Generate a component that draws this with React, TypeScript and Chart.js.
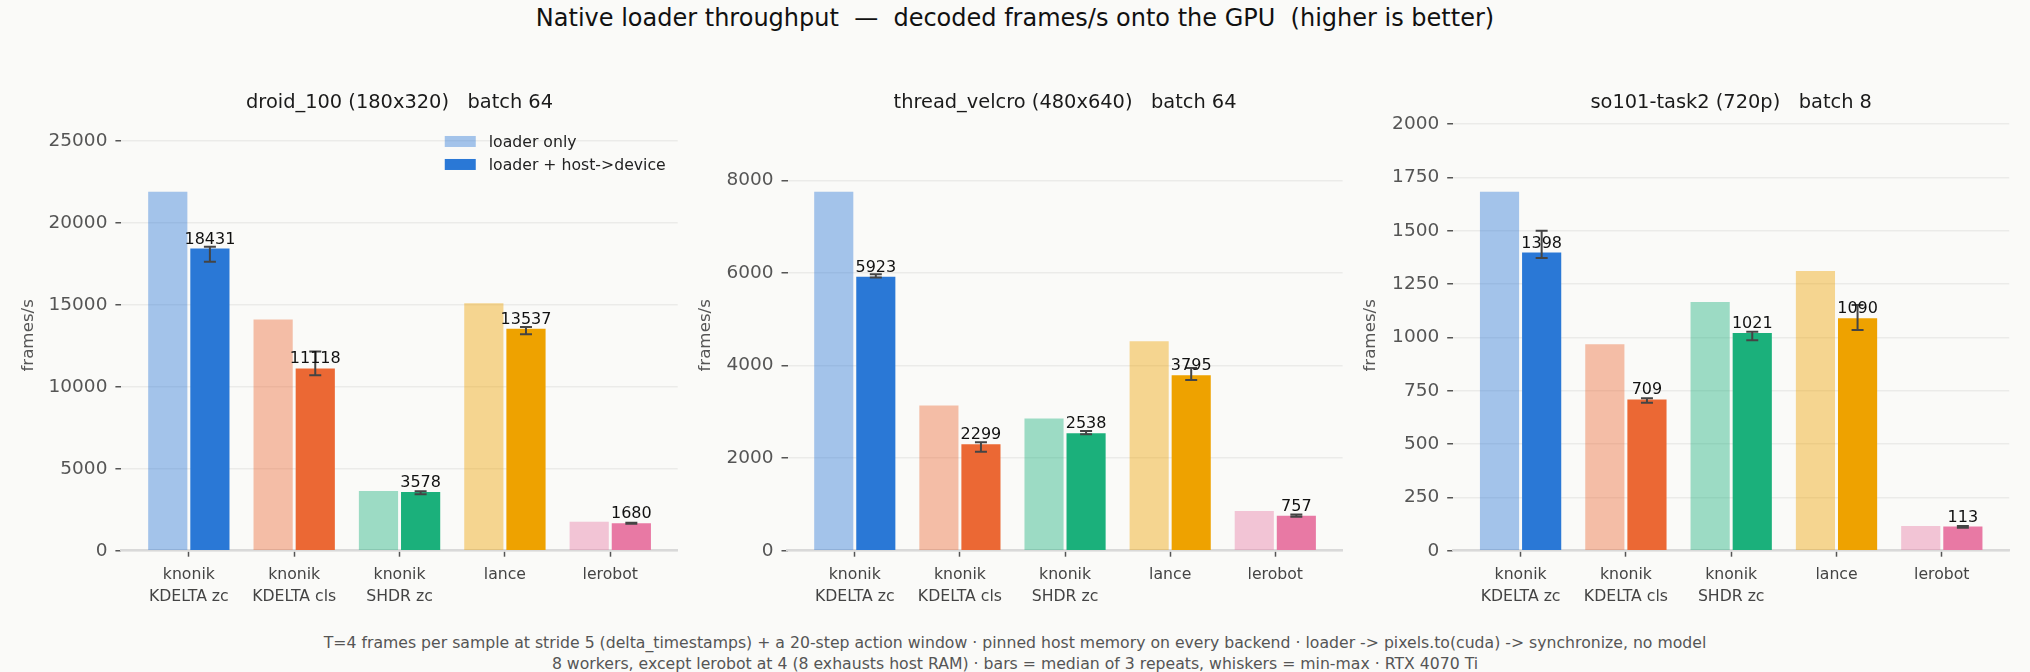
import { useEffect, useRef } from 'react'
import { Chart, registerables } from 'chart.js'

Chart.register(...registerables)

const FONT = '"DejaVu Sans", "Liberation Sans", sans-serif'
const BG = '#fafaf8'

const SUPTITLE = 'Native loader throughput  —  decoded frames/s onto the GPU  (higher is better)'
const FOOTNOTE = [
  'T=4 frames per sample at stride 5 (delta_timestamps) + a 20-step action window · pinned host memory on every backend · loader -> pixels.to(cuda) -> synchronize, no model',
  '8 workers, except lerobot at 4 (8 exhausts host RAM) · bars = median of 3 repeats, whiskers = min-max · RTX 4070 Ti',
]

const CATEGORIES = [['knonik', 'KDELTA zc'], ['knonik', 'KDELTA cls'], ['knonik', 'SHDR zc'], ['lance'], ['lerobot']]
const SERIES_LABELS = ['loader only', 'loader + host->device']
const BAR_COLORS = ['#2a78d6', '#eb6834', '#1bb07b', '#eea200', '#e879a4']
const LIGHT_ALPHA = 0.42

// droid_100 (180x320), batch 64
const DROID_LOADER = [21900, 14100, 3650, 15100, 1760]
const DROID_H2D = [18431, 11118, 3578, 13537, 1680]
const DROID_MIN = [17630, 10710, 3450, 13200, 1650]
const DROID_MAX = [18540, 12160, 3620, 13650, 1710]
const DROID_TICKS = [0, 5000, 10000, 15000, 20000, 25000]

// thread_velcro (480x640), batch 64
const VELCRO_LOADER = [7760, 3140, 2860, 4530, 860]
const VELCRO_H2D = [5923, 2299, 2538, 3795, 757]
const VELCRO_MIN = [5905, 2140, 2515, 3690, 735]
const VELCRO_MAX = [5975, 2345, 2590, 3950, 785]
const VELCRO_TICKS = [0, 2000, 4000, 6000, 8000]

// so101-task2 (720p), batch 8
const SO101_LOADER = [1683, 968, 1166, 1312, 116]
const SO101_H2D = [1398, 709, 1021, 1090, 113]
const SO101_MIN = [1373, 694, 987, 1035, 108]
const SO101_MAX = [1500, 715, 1027, 1152, 116]
const SO101_TICKS = [0, 250, 500, 750, 1000, 1250, 1500, 1750, 2000]

const PANELS = [
  { title: 'droid_100 (180x320)   batch 64', loader: DROID_LOADER, h2d: DROID_H2D, lo: DROID_MIN, hi: DROID_MAX, ticks: DROID_TICKS, legend: true },
  { title: 'thread_velcro (480x640)   batch 64', loader: VELCRO_LOADER, h2d: VELCRO_H2D, lo: VELCRO_MIN, hi: VELCRO_MAX, ticks: VELCRO_TICKS, legend: false },
  { title: 'so101-task2 (720p)   batch 8', loader: SO101_LOADER, h2d: SO101_H2D, lo: SO101_MIN, hi: SO101_MAX, ticks: SO101_TICKS, legend: false },
]

// canvas boxes in page pixels
const BOXES = [
  { left: 13, width: 677, axisWidth: 108.4, padRight: 12.3 },
  { left: 690, width: 665, axisWidth: 97.5, padRight: 12.4 },
  { left: 1355, width: 675, axisWidth: 98.2, padRight: 20.8 },
]
const CANVAS_TOP = 60
const CANVAS_H = 560

function withAlpha(hex: string, a: number) {
  const n = parseInt(hex.slice(1), 16)
  return `rgba(${(n >> 16) & 255}, ${(n >> 8) & 255}, ${n & 255}, ${a})`
}

function makeOverlay(p: (typeof PANELS)[number]) {
  return {
    id: 'overlay',
    afterDatasetsDraw(chart: Chart) {
      const { ctx, chartArea } = chart
      const y = chart.scales.y
      const meta = chart.getDatasetMeta(1)
      ctx.save()
      meta.data.forEach((bar: any, i: number) => {
        const x = bar.x
        const yLo = y.getPixelForValue(p.lo[i])
        const yHi = y.getPixelForValue(p.hi[i])
        ctx.strokeStyle = '#444'
        ctx.lineWidth = 2
        ctx.beginPath()
        ctx.moveTo(x, yLo)
        ctx.lineTo(x, yHi)
        ctx.moveTo(x - 6, yLo)
        ctx.lineTo(x + 6, yLo)
        ctx.moveTo(x - 6, yHi)
        ctx.lineTo(x + 6, yHi)
        ctx.stroke()
        ctx.fillStyle = '#111'
        ctx.font = `16px ${FONT}`
        ctx.textAlign = 'center'
        ctx.textBaseline = 'alphabetic'
        ctx.fillText(String(p.h2d[i]), x, bar.y - 5)
      })

      if (p.legend) {
        ctx.font = `15.7px ${FONT}`
        ctx.textAlign = 'left'
        ctx.textBaseline = 'middle'
        const maxW = Math.max(...SERIES_LABELS.map((s) => ctx.measureText(s).width))
        const textX = chartArea.right - 12 - maxW
        const colors = [withAlpha(BAR_COLORS[0], LIGHT_ALPHA), BAR_COLORS[0]]
        SERIES_LABELS.forEach((label, k) => {
          const cy = chartArea.top + 21.5 + k * 23
          ctx.fillStyle = colors[k]
          ctx.fillRect(textX - 44, cy - 5.5, 31, 11)
          ctx.fillStyle = '#222'
          ctx.fillText(label, textX, cy + 1)
        })
      }
      ctx.restore()
    },
  }
}

function Panel({ index }: { index: number }) {
  const chartRef = useRef<HTMLCanvasElement>(null)
  const p = PANELS[index]
  const box = BOXES[index]

  useEffect(() => {
    if (!chartRef.current) return
    const yMax = 1.2 * Math.max(...p.loader)

    const chart = new Chart(chartRef.current, {
      type: 'bar',
      data: {
        datasets: [
          {
            label: SERIES_LABELS[0],
            data: p.loader.map((v, i) => ({ x: i, y: v })),
            backgroundColor: BAR_COLORS.map((c) => withAlpha(c, LIGHT_ALPHA)),
            borderWidth: 0,
            categoryPercentage: 0.8,
            barPercentage: 0.93,
          },
          {
            label: SERIES_LABELS[1],
            data: p.h2d.map((v, i) => ({ x: i, y: v })),
            backgroundColor: BAR_COLORS,
            borderWidth: 0,
            categoryPercentage: 0.8,
            barPercentage: 0.93,
          },
        ],
      },
      options: {
        responsive: true,
        maintainAspectRatio: false,
        animation: false,
        events: [],
        layout: { padding: { left: 0, right: box.padRight, top: 0, bottom: 0 } },
        plugins: {
          legend: { display: false },
          tooltip: { enabled: false },
          title: {
            display: true,
            text: p.title,
            fullSize: false,
            color: '#1a1a1a',
            font: { family: FONT, size: 19.4, weight: 'normal' },
            padding: { top: 31.4, bottom: 5.3 },
          },
        },
        scales: {
          x: {
            type: 'linear',
            min: -0.64,
            max: 4.64,
            offset: false,
            afterBuildTicks: (s: any) => {
              s.ticks = CATEGORIES.map((_, i) => ({ value: i }))
            },
            afterFit: (s: any) => {
              s.height = 69.3
            },
            grid: {
              display: true,
              drawOnChartArea: false,
              drawTicks: true,
              tickLength: 6,
              tickWidth: 1.5,
              tickColor: '#555',
              offset: false,
            },
            border: { display: true, color: '#d9d9d9', width: 2.5 },
            ticks: {
              autoSkip: false,
              maxRotation: 0,
              padding: 8,
              color: '#444',
              font: { family: FONT, size: 15.7, lineHeight: 1.35 },
              callback: (v: any) => CATEGORIES[v] ?? '',
            },
          },
          y: {
            min: 0,
            max: yMax,
            afterBuildTicks: (s: any) => {
              s.ticks = p.ticks.map((v) => ({ value: v }))
            },
            afterFit: (s: any) => {
              s.width = box.axisWidth
            },
            grid: {
              color: '#ebebe9',
              lineWidth: 1.5,
              drawTicks: true,
              tickLength: 6,
              tickWidth: 1.5,
              tickColor: '#555',
            },
            border: { display: false },
            ticks: {
              autoSkip: false,
              padding: 8,
              color: '#555',
              font: { family: FONT, size: 18.5 },
              callback: (v: any) => String(v),
            },
            title: {
              display: true,
              text: 'frames/s',
              color: '#555',
              font: { family: FONT, size: 16.7 },
              padding: { top: 6, bottom: 0 },
            },
          },
        },
      },
      plugins: [makeOverlay(p)],
    } as any)

    return () => {
      chart.destroy()
    }
  }, [])

  return (
    <div style={{ position: 'absolute', left: box.left, top: CANVAS_TOP, width: box.width, height: CANVAS_H }}>
      <canvas ref={chartRef} />
    </div>
  )
}

export default function App() {
  return (
    <div
      style={{
        position: 'absolute',
        left: 0,
        top: 0,
        width: 2030,
        height: 672,
        background: BG,
        fontFamily: FONT,
        overflow: 'hidden',
      }}
    >
      <div
        style={{
          position: 'absolute',
          left: 0,
          top: 4,
          width: 2030,
          textAlign: 'center',
          fontSize: 24,
          lineHeight: '28px',
          color: '#111',
          whiteSpace: 'pre',
        }}
      >
        {SUPTITLE}
      </div>
      {PANELS.map((_, i) => (
        <Panel key={i} index={i} />
      ))}
      <div
        style={{
          position: 'absolute',
          left: 0,
          top: 631.6,
          width: 2030,
          textAlign: 'center',
          fontSize: 15.7,
          lineHeight: '21.3px',
          color: '#555',
          whiteSpace: 'pre',
        }}
      >
        {FOOTNOTE.map((line, i) => (
          <div key={i}>{line}</div>
        ))}
      </div>
    </div>
  )
}
